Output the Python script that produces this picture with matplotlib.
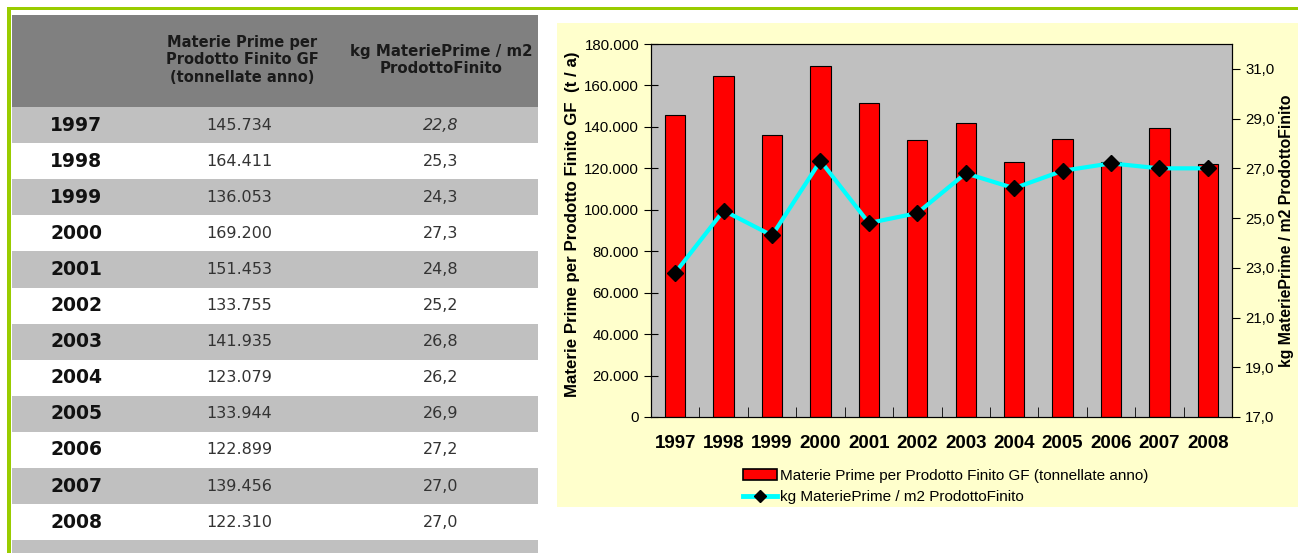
import matplotlib.pyplot as plt
from matplotlib.patches import Rectangle, Patch
from matplotlib.lines import Line2D
from matplotlib.ticker import FuncFormatter, MultipleLocator, FixedLocator

years = [1997, 1998, 1999, 2000, 2001, 2002, 2003, 2004, 2005, 2006, 2007, 2008]
materie = [145734, 164411, 136053, 169200, 151453, 133755, 141935, 123079,
           133944, 122899, 139456, 122310]
kg_m2 = [22.8, 25.3, 24.3, 27.3, 24.8, 25.2, 26.8, 26.2, 26.9, 27.2, 27.0, 27.0]

head_col2 = "Materie Prime per\nProdotto Finito GF\n(tonnellate anno)"
head_col3 = "kg MateriePrime / m2\nProdottoFinito"
bar_label = "Materie Prime per Prodotto Finito GF (tonnellate anno)"
line_label = "kg MateriePrime / m2 ProdottoFinito"

W, H = 1298, 553
green = "#99cc00"
fig = plt.figure(figsize=(W / 100, H / 100), dpi=100)

# background canvas in pixel coordinates
bg = fig.add_axes([0, 0, 1, 1], zorder=-5)
bg.set_xlim(0, W)
bg.set_ylim(H, 0)
bg.axis("off")

bg.add_patch(Rectangle((7, 7), W - 7, 3, color=green, lw=0))
bg.add_patch(Rectangle((7, 7), 3.5, H - 7, color=green, lw=0))

# table
row_h = 36.1
top = 107
bg.add_patch(Rectangle((12, 15), 526, top - 15, color="#808080", lw=0))
bg.text(242, 60, head_col2, ha="center", va="center", fontsize=10.5,
        fontweight="bold", color="#1a1a1a", linespacing=1.2)
bg.text(441, 60, head_col3, ha="center", va="center", fontsize=10.8,
        fontweight="bold", color="#1a1a1a", linespacing=1.2)
for i, yr in enumerate(years):
    y0 = top + i * row_h
    if i % 2 == 0:
        bg.add_patch(Rectangle((12, y0), 526, row_h, color="#c0c0c0", lw=0))
    yc = y0 + row_h / 2
    bg.text(50, yc, str(yr), ha="left", va="center", fontsize=13.5,
            fontweight="bold", color="#111111")
    bg.text(239, yc, f"{materie[i]:,}".replace(",", "."), ha="center",
            va="center", fontsize=11.5, color="#333333")
    bg.text(441, yc, f"{kg_m2[i]:.1f}".replace(".", ","), ha="center",
            va="center", fontsize=11.5, color="#333333",
            style="italic" if i == 0 else "normal")
bg.add_patch(Rectangle((12, top + 12 * row_h), 526, H, color="#c0c0c0", lw=0))

# chart area
bg.add_patch(Rectangle((557, 23), W - 557, 507 - 23, color="#ffffcc", lw=0))

font = "Liberation Sans"
pl, pr, pt, pb = 651, 1232, 44, 417
ax = fig.add_axes([pl / W, 1 - pb / H, (pr - pl) / W, (pb - pt) / H])
ax.set_facecolor("#c0c0c0")
x = list(range(len(years)))
ax.bar(x, materie, width=0.42, color="#ff0000", edgecolor="black", lw=0.8)
ax.set_xlim(-0.5, len(years) - 0.5)
ax.set_ylim(0, 180000)
ax.yaxis.set_major_locator(MultipleLocator(20000))
ax.yaxis.set_major_formatter(FuncFormatter(lambda v, p: f"{int(v):,}".replace(",", ".")))
ax.set_xticks(x)
ax.set_xticklabels([str(y) for y in years], fontfamily=font,
                   fontweight="bold", fontsize=13.5)
ax.tick_params(axis="x", length=0, pad=13)
ax.xaxis.set_minor_locator(FixedLocator([i + 0.5 for i in x[:-1]]))
ax.tick_params(axis="x", which="minor", direction="in", length=7)
ax.tick_params(axis="y", direction="inout", length=10, labelsize=10.8)
for lab in ax.get_yticklabels():
    lab.set_fontfamily(font)
for s in ax.spines.values():
    s.set_color("black")

ax2 = ax.twinx()
ax2.plot(x, kg_m2, color="#00ffff", lw=3, marker="D", ms=8,
         mfc="black", mec="black")
ax2.set_ylim(17, 32)
ax2.set_yticks([17, 19, 21, 23, 25, 27, 29, 31])
ax2.yaxis.set_major_formatter(FuncFormatter(lambda v, p: f"{v:.1f}".replace(".", ",")))
ax2.tick_params(axis="y", direction="out", length=6, labelsize=10.8)
for lab in ax2.get_yticklabels():
    lab.set_fontfamily(font)

bg.text(572, 224, "Materie Prime per Prodotto Finito GF  (t / a)", rotation=90,
        ha="center", va="center", fontsize=12.2, fontweight="bold",
        fontfamily=font)
bg.text(1287, 231, line_label, rotation=90, ha="center", va="center",
        fontsize=11.4, fontweight="bold", fontfamily=font)

handles = [Patch(facecolor="#ff0000", edgecolor="black", lw=1.2),
           Line2D([], [], color="#00ffff", lw=3.5, marker="D", ms=6,
                  mfc="black", mec="black")]
fig.legend(handles, [bar_label, line_label], loc="upper left",
           bbox_to_anchor=(737 / W, 1 - 463 / H), frameon=False,
           prop={"family": font, "size": 11}, handlelength=2.2,
           handletextpad=0.2, labelspacing=0.45, borderaxespad=0)

fig.savefig("out.png", dpi=100)
